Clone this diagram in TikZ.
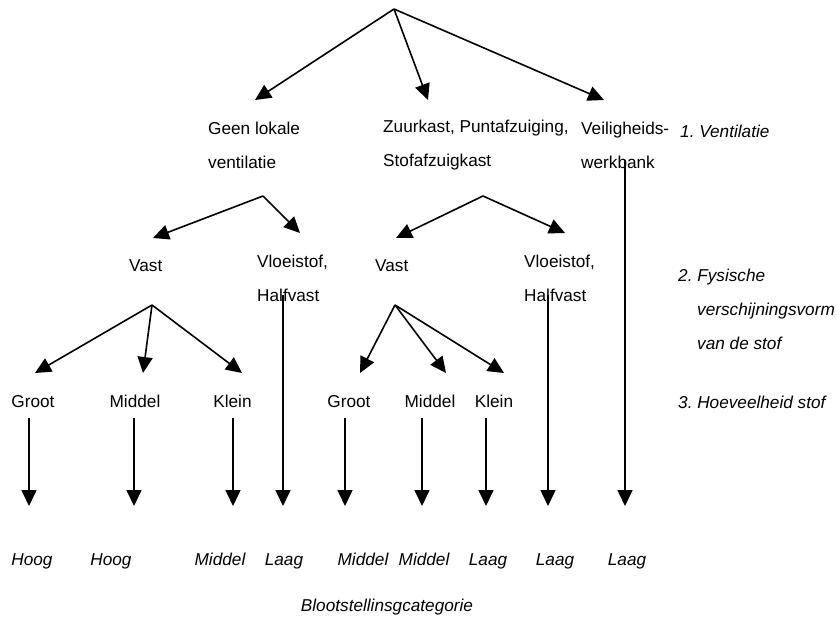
\documentclass[tikz,border=0pt]{standalone}
\usepackage{fontspec}
\setmainfont{Liberation Sans}
\usetikzlibrary{arrows.meta}
\frenchspacing
\begin{document}
\begin{tikzpicture}[x=1pt,y=-1pt,
  lbl/.style={inner sep=0pt, font=\fontsize{17.2}{34}\selectfont, align=left, anchor=west},
  ilbl/.style={inner sep=0pt, font=\fontsize{17.2}{34}\selectfont\itshape, align=left, anchor=west},
  cat/.style={inner sep=0pt, font=\fontsize{17.2}{34}\selectfont\itshape, anchor=base},
  arr/.style={line width=1.6pt, -{Triangle[length=16pt,width=15pt]}},
  ln/.style={line width=1.6pt}]
\useasboundingbox (0,0) rectangle (837,616);

% level 1 texts
\node[lbl] (geen) at (208,145) {Geen lokale\\ventilatie};
\node[lbl] (zuur) at (383,145) {Zuurkast, Puntafzuiging,\\Stofafzuigkast};
\node[lbl] (veil) at (581,145) {Veiligheids-\\werkbank};
\node[ilbl] (lev1) at (680,131) {1. Ventilatie};

% level 2 texts
\node[lbl] (vast1) at (129,266) {Vast};
\node[lbl] (vloei1) at (257,278.5) {Vloeistof,\\Halfvast};
\node[lbl] (vast2) at (375,266) {Vast};
\node[lbl] (vloei2) at (524,278.5) {Vloeistof,\\Halfvast};
\node[ilbl] (lev2) at (678,309) {2. Fysische\\\hspace*{19pt}verschijningsvorm\\\hspace*{19pt}van de stof};

% level 3 texts
\node[lbl,anchor=base] (groot1) at (33,407) {Groot};
\node[lbl,anchor=base] (middel1) at (135,407) {Middel};
\node[lbl,anchor=base] (klein1) at (232.5,407) {Klein};
\node[lbl,anchor=base] (groot2) at (349,407) {Groot};
\node[lbl,anchor=base] (middel2) at (430,407) {Middel};
\node[lbl,anchor=base] (klein2) at (494,407) {Klein};
\node[ilbl,anchor=base west] (lev3) at (678,408) {3. Hoeveelheid stof};

% categories
\node[cat] (c1) at (32,565) {Hoog};
\node[cat] (c2) at (111,565) {Hoog};
\node[cat] (c3) at (220,565) {Middel};
\node[cat] (c4) at (284,565) {Laag};
\node[cat] (c5) at (363,565) {Middel};
\node[cat] (c6) at (424,565) {Middel};
\node[cat] (c7) at (488,565) {Laag};
\node[cat] (c8) at (555,565) {Laag};
\node[cat] (c9) at (627,565) {Laag};
\node[cat] (bloot) at (387,611) {Blootstellinsgcategorie};

% branch points and tips
\coordinate (top) at (394,9);
\coordinate (t1) at (255,100);
\coordinate (t2) at (428,100);
\coordinate (t3) at (604,100);
\coordinate (a2L) at (263,196);
\coordinate (v1tip) at (153,238);
\coordinate (vl1tip) at (300,233);
\coordinate (a2R) at (483,196);
\coordinate (v2tip) at (396,238);
\coordinate (vl2tip) at (565,233);
\coordinate (a3L) at (152,305);
\coordinate (g1tip) at (35,373);
\coordinate (m1tip) at (143,373);
\coordinate (k1tip) at (242,373);
\coordinate (a3R) at (395,305);
\coordinate (g2tip) at (360,373);
\coordinate (m2tip) at (446,373);
\coordinate (k2tip) at (504,373);

\draw[arr] (top) -- (t1);
\draw[arr] (top) -- (t2);
\draw[arr] (top) -- (t3);
\draw[arr] (a2L) -- (v1tip);
\draw[arr] (a2L) -- (vl1tip);
\draw[arr] (a2R) -- (v2tip);
\draw[arr] (a2R) -- (vl2tip);
\draw[arr] (a3L) -- (g1tip);
\draw[arr] (a3L) -- (m1tip);
\draw[arr] (a3L) -- (k1tip);
\draw[arr] (a3R) -- (g2tip);
\draw[arr] (a3R) -- (m2tip);
\draw[arr] (a3R) -- (k2tip);

% vertical arrows
\foreach \n/\x/\ys in {g1/29/418, m1/134/418, k1/233/418, h1/283/295, g2/345/418, m2/422/418, k2/486/418, h2/548/295, w/625/160} {
  \coordinate (\n s) at (\x,\ys);
  \coordinate (\n e) at (\x,506);
  \draw[arr] (\n s) -- (\n e);
}
\end{tikzpicture}
\end{document}
